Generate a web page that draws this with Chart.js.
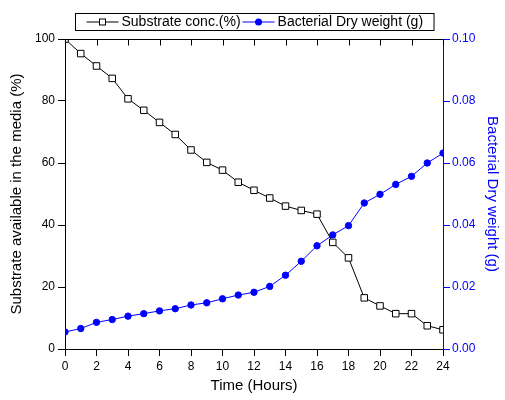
<!DOCTYPE html>
<html><head><meta charset="utf-8">
<script src="https://cdn.jsdelivr.net/npm/chart.js@4.4.1/dist/chart.umd.min.js"></script>
<style>html,body{margin:0;padding:0;background:#fff}</style>
</head><body>
<canvas id="c" width="505" height="400" style="width:505px;height:400px;display:block"></canvas>
<script>
const hours = [0,1,2,3,4,5,6,7,8,9,10,11,12,13,14,15,16,17,18,19,20,21,22,23,24];
const substrate = [100,95.3,91.3,87.3,80.7,77,73.1,69.2,64.2,60.2,57.7,53.8,51.2,48.7,46.1,44.7,43.5,34.4,29.4,16.5,13.9,11.4,11.4,7.5,6.2];
const dryWeight = [0.0055,0.0066,0.0086,0.0095,0.0106,0.0114,0.0123,0.0130,0.0142,0.0149,0.0162,0.0174,0.0183,0.0202,0.0238,0.0283,0.0333,0.0368,0.0398,0.0471,0.0499,0.0531,0.0557,0.0600,0.0632];
const seriesNames = ['Substrate conc.(%)','Bacterial Dry weight (g)'];
const axisTitles = {x:'Time (Hours)', y:'Substrate available in the media (%)', y2:'Bacterial Dry weight (g)'};
const FONT = '"Liberation Sans", Arial, sans-serif';
const BLUE = '#0000FF';

const topFramePlugin = {
  id:'topFrame',
  afterDraw(chart){
    const ctx = chart.ctx, a = chart.chartArea, xs = chart.scales.x;
    ctx.save();
    ctx.strokeStyle = '#000'; ctx.lineWidth = 1;
    ctx.beginPath();
    const t = Math.round(a.top)+0.5;
    ctx.moveTo(a.left, t); ctx.lineTo(a.right, t);
    xs.ticks.forEach(tk=>{
      const px = Math.round(xs.getPixelForValue(tk.value))+0.5;
      ctx.moveTo(px, t); ctx.lineTo(px, t+6);
    });
    ctx.stroke();
    ctx.restore();
  }
};

const legendPlugin = {
  id:'boxLegend',
  afterDraw(chart){
    const ctx = chart.ctx;
    const ds = chart.data.datasets;
    ctx.save();
    ctx.font = '14px ' + FONT;
    const x0 = 75.5, top = 13.5, h = 17, cy = 22;
    const pad = 11, symW = 32, gap = 3, between = 2;
    let w = pad;
    ds.forEach((d,i)=>{ w += symW + gap + ctx.measureText(d.label).width + (i < ds.length-1 ? between : 0); });
    w += pad;
    ctx.fillStyle = '#fff'; ctx.fillRect(x0, top, w, h);
    ctx.strokeStyle = '#000'; ctx.lineWidth = 1; ctx.strokeRect(x0, top, w, h);
    let cx = x0 + pad;
    ds.forEach((d,i)=>{
      ctx.strokeStyle = d.borderColor; ctx.lineWidth = 1;
      ctx.beginPath(); ctx.moveTo(cx, cy); ctx.lineTo(cx+symW, cy); ctx.stroke();
      const mx = cx + symW/2;
      if (d.pointStyle === 'rect') {
        ctx.fillStyle = '#fff'; ctx.fillRect(mx-3, cy-3, 6, 6);
        ctx.strokeStyle = d.pointBorderColor; ctx.strokeRect(mx-3, cy-3, 6, 6);
      } else {
        ctx.fillStyle = d.pointBackgroundColor;
        ctx.beginPath(); ctx.arc(mx, cy, 3.5, 0, Math.PI*2); ctx.fill();
      }
      cx += symW + gap;
      ctx.fillStyle = '#000'; ctx.textBaseline = 'middle'; ctx.textAlign = 'left';
      ctx.fillText(d.label, cx, cy);
      cx += ctx.measureText(d.label).width + between;
    });
    ctx.restore();
  }
};

new Chart(document.getElementById('c'), {
  type:'line',
  data:{
    datasets:[
      {label:seriesNames[0], data:hours.map((h,i)=>({x:h,y:substrate[i]})), yAxisID:'y',
       borderColor:'#000', borderWidth:1, pointStyle:'rect', pointRadius:4.6, pointBorderWidth:1,
       pointBackgroundColor:'#fff', pointBorderColor:'#000', order:2, tension:0},
      {label:seriesNames[1], data:hours.map((h,i)=>({x:h,y:dryWeight[i]})), yAxisID:'y2',
       borderColor:BLUE, borderWidth:1, pointStyle:'circle', pointRadius:3.2, pointBorderWidth:1,
       pointBackgroundColor:BLUE, pointBorderColor:BLUE, order:1, tension:0}
    ]
  },
  options:{
    responsive:false, animation:false, devicePixelRatio:1,
    layout:{padding:{top:39, left:0, right:0, bottom:0}},
    plugins:{legend:{display:false}, tooltip:{enabled:false}},
    scales:{
      x:{type:'linear', position:'bottom', min:0, max:24,
        ticks:{stepSize:2, color:'#000', font:{family:FONT, size:12}, padding:3, maxRotation:0},
        grid:{drawOnChartArea:false, drawTicks:true, tickLength:7, tickColor:'#000'},
        border:{color:'#000', width:1},
        title:{display:true, text:axisTitles.x, color:'#000', font:{family:FONT, size:15}, padding:{top:2, bottom:5}},
        afterFit(s){ s.height = 51; }
      },
      y:{type:'linear', position:'left', min:0, max:100,
        ticks:{stepSize:20, color:'#000', font:{family:FONT, size:12}, padding:3},
        grid:{drawOnChartArea:false, drawTicks:true, tickLength:7, tickColor:'#000'},
        border:{color:'#000', width:1},
        title:{display:true, text:axisTitles.y, color:'#000', font:{family:FONT, size:15}, padding:{top:8, bottom:2}},
        afterFit(s){ s.width = 65; }
      },
      y2:{type:'linear', position:'right', min:0, max:0.1,
        ticks:{stepSize:0.02, color:BLUE, font:{family:FONT, size:12}, padding:2, callback:v=>Number(v).toFixed(2)},
        grid:{drawOnChartArea:false, drawTicks:true, tickLength:7, tickColor:BLUE},
        border:{color:BLUE, width:1},
        title:{display:true, text:axisTitles.y2, color:BLUE, font:{family:FONT, size:15}, padding:{top:4, bottom:2}},
        afterFit(s){ s.width = 62; }
      }
    }
  },
  plugins:[topFramePlugin, legendPlugin]
});
</script>
</body></html>
